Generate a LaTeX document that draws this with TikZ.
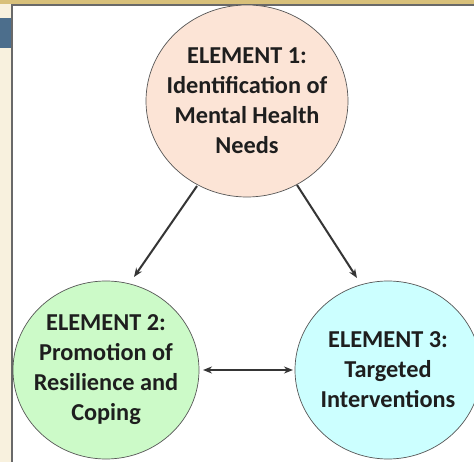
\documentclass[tikz,border=0pt]{standalone}
\usepackage{fontspec}
\setmainfont{Carlito}
\usetikzlibrary{shapes.geometric,arrows.meta}
\definecolor{gold}{RGB}{216,192,122}
\definecolor{bandblue}{RGB}{76,110,140}
\definecolor{cream}{RGB}{248,241,222}
\definecolor{framegray}{RGB}{105,105,105}
\definecolor{peach}{RGB}{252,228,214}
\definecolor{mint}{RGB}{204,250,200}
\definecolor{aqua}{RGB}{204,255,255}
\definecolor{ink}{RGB}{30,30,30}
\tikzset{
  element/.style={ellipse, draw=ink!75, line width=0.7pt, inner xsep=-14pt, inner ysep=0pt,
    font=\bfseries\fontsize{24.3}{30}\selectfont, text=ink, align=center},
  link/.style={draw=ink!90, line width=2pt, -{Stealth[length=9pt,width=7pt]}},
  biline/.style={draw=ink!90, line width=2pt, {Stealth[length=9pt,width=7pt]}-{Stealth[length=9pt,width=7pt]}}
}
\begin{document}
\begin{tikzpicture}[x=1pt,y=-1pt]
\useasboundingbox (0,0) rectangle (474,462);
\clip (0,0) rectangle (474,462);
% background
\fill[cream] (0,0) rectangle (474,462);
\fill[gold] (0,0) rectangle (474,4.5);
\fill[bandblue] (0,18) rectangle (11.5,48);
\fill[white] (12,5) rectangle (474,462);
\draw[framegray, line width=1.6pt] (12,462) -- (12,5) -- (474,5);
% elements
\node[element, fill=peach, minimum width=202pt, minimum height=192pt] (e1) at (247,101)
  {ELEMENT 1:\\Identification of\\Mental Health\\Needs};
\node[element, fill=mint, minimum width=186pt, minimum height=178pt] (e2) at (106,370)
  {ELEMENT 2:\\Promotion of\\Resilience and\\Coping};
\node[element, fill=aqua, minimum width=186pt, minimum height=178pt] (e3) at (388,370)
  {ELEMENT 3:\\Targeted\\Interventions};
% connectors
\coordinate (a1) at (197,186);
\coordinate (t1) at (134,277);
\coordinate (a2) at (297,185);
\coordinate (t2) at (357,278);
\coordinate (b1) at (203,370);
\coordinate (b2) at (293,370);
\draw[link] (a1) -- (t1);
\draw[link] (a2) -- (t2);
\draw[biline] (b1) -- (b2);
\end{tikzpicture}
\end{document}
